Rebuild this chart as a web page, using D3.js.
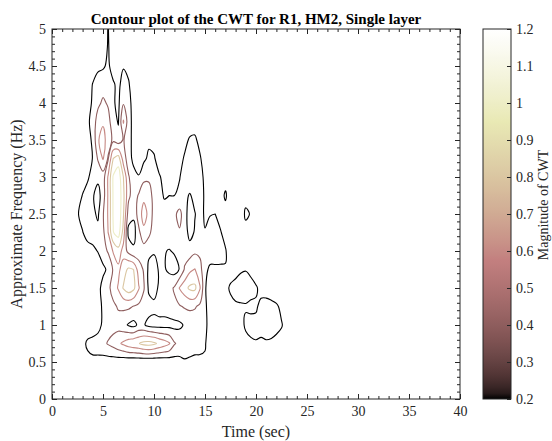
<!DOCTYPE html>
<html>
<head>
<meta charset="utf-8">
<script src="https://cdn.jsdelivr.net/npm/d3@7"></script>
<style>
  body { margin: 0; background: #fff; }
  svg { display: block; font-family: "Liberation Serif", "Times New Roman", serif; }
</style>
</head>
<body>
<svg width="552" height="441"></svg>
<script>
let timeSec = [2, 2.5, 3, 3.5, 4, 4.5, 5, 5.5, 6, 6.5, 7, 7.5, 8, 8.5, 9, 9.5, 10, 10.5, 11, 11.5,
    12, 12.5, 13, 13.5, 14, 14.5, 15, 15.5, 16, 16.5, 17, 17.5, 18, 18.5, 19, 19.5, 20, 20.5, 21, 21.5,
    22, 22.5, 23, 23.5, 24];
let freqHz = [5, 4.75, 4.5, 4.25, 4, 3.75, 3.5, 3.25, 3, 2.75, 2.5, 2.25, 2, 1.75, 1.5, 1.25, 1, 0.75, 0.5, 0.25, 0];
// one row per frequency (top row = 5 Hz), one column per time sample
let cwtMagnitude = [
    [0,0,0,0,0, 0,.06,.21,.06,0, 0,0,0,0,0, 0,0,0,0,0, 0,0,0,0,0, 0,0,0,0,0, 0,0,0,0,0, 0,0,0,0,0, 0,0,0,0,0],
    [0,0,0,0,.03, .04,.08,.22,.08,.04, .06,.04,0,0,0, 0,0,0,0,0, 0,0,0,0,0, 0,0,0,0,0, 0,0,0,0,0, 0,0,0,0,0, 0,0,0,0,0],
    [0,0,0,.04,.1, .15,.17,.24,.1,.08, .18,.15,.06,0,0, 0,0,0,0,0, 0,0,0,0,0, 0,0,0,0,0, 0,0,0,0,0, 0,0,0,0,0, 0,0,0,0,0],
    [0,0,.04,.1,.21, .3,.33,.32,.23,.14, .3,.22,.1,.04,0, 0,0,0,0,0, 0,0,0,0,0, 0,0,0,0,0, 0,0,0,0,0, 0,0,0,0,0, 0,0,0,0,0],
    [0,0,.05,.12,.23, .36,.43,.38,.22,.16, .38,.27,.12,.05,0, 0,0,0,0,0, 0,0,0,0,0, 0,0,0,0,0, 0,0,0,0,0, 0,0,0,0,0, 0,0,0,0,0],
    [0,0,.06,.15,.3, .48,.57,.46,.3,.18, .62,.3,.12,.06,.04, .05,.04,0,0,0, 0,0,.06,.1,.12, .07,0,0,0,0, 0,0,0,0,0, 0,0,0,0,0, 0,0,0,0,0],
    [0,0,.06,.12,.24, .58,.68,.5,.36,.28, .42,.26,.15,.1,.12, .16,.14,.08,.05,.04, .05,.08,.15,.22,.23, .15,.06,0,0,0, 0,0,0,0,0, 0,0,0,0,0, 0,0,0,0,0],
    [0,.02,.05,.1,.21, .42,.62,.38,.8,.9, .5,.3,.14,.12,.16, .24,.22,.12,.08,.07, .08,.14,.22,.3,.3, .22,.12,.04,0,0, 0,0,0,0,0, 0,0,0,0,0, 0,0,0,0,0],
    [0,.04,.1,.18,.26, .25,.3,.62,1.02,1.12, .8,.42,.28,.21,.34, .36,.3,.22,.15,.17, .15,.19,.28,.35,.35, .28,.15,.08,.03,.05, .08,.03,0,0,0, 0,0,0,0,0, 0,0,0,0,0],
    [.02,.1,.21,.26,.22, .12,.3,.62,1.02,1.16, .85,.45,.3,.42,.55, .5,.32,.24,.19,.2, .2,.24,.26,.18,.26, .26,.18,.1,.06,.08, .24,.05,.03,.04,.1, .06,0,0,0,0, 0,0,0,0,0],
    [.05,.18,.28,.3,.24, .17,.38,.62,1.02,1.16, .82,.3,.24,.5,.68, .55,.32,.26,.24,.26, .36,.46,.3,.08,.19, .28,.17,.19,.2,.12, .1,.04,.03,.06,.25, .18,.05,0,0,0, 0,0,0,0,0],
    [.02,.1,.19,.3,.3, .25,.35,.6,.99,1.1, .72,.14,.12,.35,.55, .45,.3,.28,.28,.3, .36,.38,.32,.12,.22, .3,.21,.28,.27,.22, .12,.04,0,.03,.1, .06,0,0,0,0, 0,0,0,0,0],
    [0,.03,.06,.1,.15, .21,.32,.42,.62,.72, .52,.34,.24,.3,.3, .24,.22,.22,.21,.19, .22,.3,.32,.3,.36, .35,.3,.28,.28,.25, .22,.08,.04,0,0, 0,0,0,0,0, 0,0,0,0,0],
    [0,0,0,0,0, .05,.15,.24,.42,.55, .7,.84,.8,.5,.38, .15,.12,.22,.22,.16, .12,.21,.42,.55,.61, .48,.24,.17,.17,.18, .19,.08,.1,.17,.19, .15,.1,.05,0,0, 0,0,0,0,0],
    [0,0,0,0,.04, .12,.28,.35,.48,.62, .82,.92,.85,.62,.42, .16,.1,.24,.3,.34, .42,.61,.72,.84,.85, .62,.22,.1,.06,.06, .12,.24,.3,.32,.3, .27,.22,.15,.08,0, 0,0,0,0,0],
    [0,0,0,0,.02, .1,.24,.3,.36,.42, .44,.44,.39,.36,.3, .28,.26,.3,.3,.32, .36,.38,.42,.44,.42, .36,.24,.1,.05,.05, .06,.12,.16,.17,.18, .16,.18,.24,.3,.3, .24,.14,.05,0,0],
    [0,0,0,.04,.06, .12,.24,.3,.32,.32, .26,.18,.14,.24,.22, .14,.12,.12,.12,.13, .14,.16,.22,.26,.28, .28,.26,.1,.04,0, 0,.04,.06,.12,.24, .26,.24,.24,.28,.28, .26,.22,.1,0,0],
    [0,.02,.12,.25,.28, .3,.34,.42,.48,.56, .64,.72,.76,.79,.86, .88,.84,.76,.7,.62, .42,.34,.3,.28,.28, .26,.22,.08,.02,0, 0,0,0,.06,.12, .17,.19,.18,.18,.17, .14,.1,.04,0,0],
    [0,0,.05,.12,.15, .14,.12,.1,.09,.08, .06,.05,.04,.04,.03, .03,.03,.04,.05,.07, .11,.14,.18,.17,.15, .16,.17,.06,.02,0, 0,0,0,0,0, .04,.05,.05,.05,.04, 0,0,0,0,0],
    [0,0,0,.03,.04, .04,.03,0,0,0, 0,0,0,0,0, 0,0,0,0,0, .03,.04,.05,.05,.04, .04,.04,0,0,0, 0,0,0,0,0, 0,0,0,0,0, 0,0,0,0,0],
    [0,0,0,0,0, 0,0,0,0,0, 0,0,0,0,0, 0,0,0,0,0, 0,0,0,0,0, 0,0,0,0,0, 0,0,0,0,0, 0,0,0,0,0, 0,0,0,0,0]
];
let contourLevels = [0.2, 0.4, 0.6, 0.8, 1.0];
let timeTicks = [0, 5, 10, 15, 20, 25, 30, 35, 40];
let freqTicks = [0, 0.5, 1, 1.5, 2, 2.5, 3, 3.5, 4, 4.5, 5];
let colorTicks = [0.2, 0.3, 0.4, 0.5, 0.6, 0.7, 0.8, 0.9, 1, 1.1, 1.2];

let svg = d3.select("svg"),
    plot = {left: 52, top: 29, right: 460, bottom: 399},
    cbar = {left: 483, width: 28},
    axisColor = "#262626";

let x = d3.scaleLinear().domain([0, 40]).range([plot.left, plot.right]),
    y = d3.scaleLinear().domain([0, 5]).range([plot.bottom, plot.top]),
    cy = d3.scaleLinear().domain([0.2, 1.2]).range([plot.bottom, plot.top]),
    cpos = d3.scaleLinear().domain([0.2, 1.2]).range([0, 1]).clamp(true);

// matlab "pink" colormap: sqrt((2*gray + hot) / 3)
function pinkColor(v) {
    let t = cpos(v),
        r = Math.min(1, t / 0.375),
        g = Math.max(0, Math.min(1, (t - 0.375) / 0.375)),
        b = Math.max(0, Math.min(1, (t - 0.75) / 0.25));
    return d3.rgb(255 * Math.sqrt((2 * t + r) / 3), 255 * Math.sqrt((2 * t + g) / 3),
        255 * Math.sqrt((2 * t + b) / 3)).formatHex();
}

svg.append("rect").attr("width", 552).attr("height", 441).attr("fill", "#fff");

let defs = svg.append("defs");
defs.append("clipPath").attr("id", "plotclip")
    .append("rect")
    .attr("x", plot.left).attr("y", plot.top)
    .attr("width", plot.right - plot.left).attr("height", plot.bottom - plot.top);

let grad = defs.append("linearGradient").attr("id", "pinkgrad")
    .attr("x1", 0).attr("y1", 1).attr("x2", 0).attr("y2", 0);
d3.range(0, 65).forEach(i => {
    let v = 0.2 + i / 64;
    grad.append("stop").attr("offset", i / 64).attr("stop-color", pinkColor(v));
});

// contour lines
let nx = timeSec.length, ny = freqHz.length;
let gridT = d3.scaleLinear().domain([0.5, nx - 0.5]).range([timeSec[0], timeSec[nx - 1]]),
    gridF = d3.scaleLinear().domain([0.5, ny - 0.5]).range([freqHz[0], freqHz[ny - 1]]);
let bands = d3.contours().size([nx, ny]).thresholds(contourLevels)(cwtMagnitude.flat());
let ringLine = d3.line().curve(d3.curveCatmullRomClosed.alpha(0.5));

let lines = svg.append("g").attr("clip-path", "url(#plotclip)").attr("fill", "none");
bands.forEach(band => {
    band.coordinates.forEach(poly => poly.forEach(ring => {
        let pts = ring.slice(0, -1).map(p => [x(gridT(p[0])), y(gridF(p[1]))]);
        lines.append("path")
            .attr("d", ringLine(pts))
            .attr("stroke", pinkColor(band.value))
            .attr("stroke-width", 1.1)
            .attr("stroke-linejoin", "round");
    }));
});

// axes (ticks inside, box on)
function styleAxis(g, size) {
    g.select(".domain").remove();
    g.attr("font-family", null).attr("font-size", size).attr("color", axisColor);
    g.selectAll("text").attr("fill", axisColor);
}
let fmt = d3.format("~g");
let minorT = d3.range(0, 41).filter(v => v % 5 !== 0),
    minorF = d3.range(0, 51).filter(v => v % 5 !== 0).map(v => v / 10);

svg.append("g").attr("transform", "translate(0," + plot.bottom + ")")
    .call(d3.axisBottom(x).tickValues(timeTicks).tickFormat(fmt).tickSize(-5).tickPadding(7))
    .call(g => styleAxis(g, 14));
svg.append("g").attr("transform", "translate(0," + plot.bottom + ")")
    .call(d3.axisBottom(x).tickValues(minorT).tickFormat("").tickSize(-3))
    .call(g => styleAxis(g, 14));
svg.append("g").attr("transform", "translate(0," + plot.top + ")")
    .call(d3.axisTop(x).tickValues(timeTicks).tickFormat("").tickSize(-5))
    .call(g => styleAxis(g, 14));
svg.append("g").attr("transform", "translate(0," + plot.top + ")")
    .call(d3.axisTop(x).tickValues(minorT).tickFormat("").tickSize(-3))
    .call(g => styleAxis(g, 14));

svg.append("g").attr("transform", "translate(" + plot.left + ",0)")
    .call(d3.axisLeft(y).tickValues(freqTicks).tickFormat(fmt).tickSize(-5).tickPadding(6))
    .call(g => styleAxis(g, 14));
svg.append("g").attr("transform", "translate(" + plot.left + ",0)")
    .call(d3.axisLeft(y).tickValues(minorF).tickFormat("").tickSize(-3))
    .call(g => styleAxis(g, 14));
svg.append("g").attr("transform", "translate(" + plot.right + ",0)")
    .call(d3.axisRight(y).tickValues(freqTicks).tickFormat("").tickSize(-5))
    .call(g => styleAxis(g, 14));
svg.append("g").attr("transform", "translate(" + plot.right + ",0)")
    .call(d3.axisRight(y).tickValues(minorF).tickFormat("").tickSize(-3))
    .call(g => styleAxis(g, 14));

svg.append("rect")
    .attr("x", plot.left).attr("y", plot.top)
    .attr("width", plot.right - plot.left).attr("height", plot.bottom - plot.top)
    .attr("fill", "none").attr("stroke", axisColor).attr("stroke-width", 1);

// colorbar
svg.append("rect")
    .attr("x", cbar.left).attr("y", plot.top)
    .attr("width", cbar.width).attr("height", plot.bottom - plot.top)
    .attr("fill", "url(#pinkgrad)").attr("stroke", axisColor).attr("stroke-width", 1);
svg.append("g").attr("transform", "translate(" + (cbar.left + cbar.width) + ",0)")
    .call(d3.axisRight(cy).tickValues(colorTicks).tickFormat(fmt).tickSize(-4).tickPadding(5))
    .call(g => styleAxis(g, 14));

// texts
svg.append("text")
    .attr("x", (plot.left + plot.right) / 2).attr("y", 24)
    .attr("text-anchor", "middle").attr("font-weight", "bold").attr("font-size", 15)
    .attr("fill", "#000")
    .text("Contour plot of the CWT for R1, HM2, Single layer");
svg.append("text")
    .attr("x", (plot.left + plot.right) / 2).attr("y", 437)
    .attr("text-anchor", "middle").attr("font-size", 16).attr("fill", axisColor)
    .text("Time (sec)");
svg.append("text")
    .attr("transform", "translate(22," + (plot.top + plot.bottom) / 2 + ") rotate(-90)")
    .attr("text-anchor", "middle").attr("font-size", 16).attr("fill", axisColor)
    .text("Approximate Frequency (Hz)");
svg.append("text")
    .attr("transform", "translate(548,205) rotate(-90)")
    .attr("text-anchor", "middle").attr("font-size", 14).attr("fill", axisColor)
    .text("Magnitude of CWT");
</script>
</body>
</html>
